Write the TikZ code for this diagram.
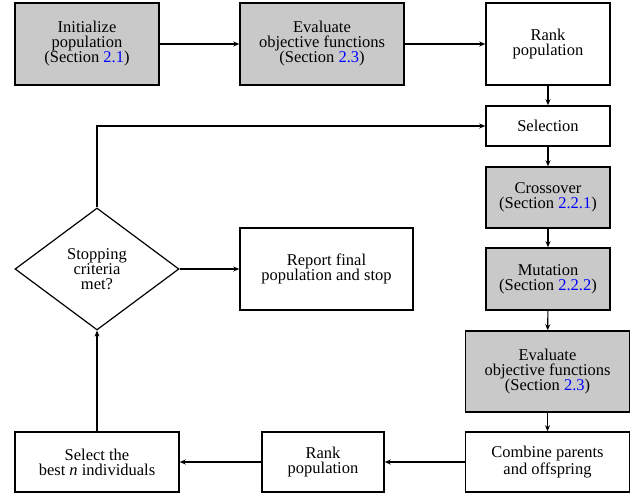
\documentclass[tikz,border=0pt]{standalone}
\usepackage{fontspec}
\setmainfont{Liberation Serif}
\usepackage{xcolor}
\usepackage{tikz}
\usetikzlibrary{shapes.geometric,arrows.meta}

\newcommand{\secnum}[1]{(Section \textcolor{blue}{#1})}

\begin{document}
\begin{tikzpicture}[x=1pt,y=1pt,
        font=\fontsize{16.5}{15}\selectfont,
        box/.style={rectangle, draw, line width=1.5pt, fill=white, align=center, inner sep=2pt},
        shaded/.style={box, fill=black!21},
        decision/.style={diamond, draw, line width=1.2pt, fill=white, align=center, inner sep=1pt,
            minimum width=164, minimum height=122},
        arr/.style={-{Stealth[length=6pt,width=5pt,inset=2pt]}, line width=1.1pt}]
        \useasboundingbox (0,0) rectangle (644,-495);

        \node[shaded, minimum width=144, minimum height=82] (init) at (87,-44) {Initialize\\population\\\secnum{2.1}};
        \node[shaded, minimum width=164, minimum height=82] (evalA) at (322,-44) {Evaluate\\objective functions\\\secnum{2.3}};
        \node[box, minimum width=124, minimum height=82] (rankA) at (548,-44) {Rank\\population};
        \node[box, minimum width=124, minimum height=40] (selection) at (548,-126) {Selection};
        \node[shaded, minimum width=124, minimum height=61] (crossover) at (548,-197.5) {Crossover\\\secnum{2.2.1}};
        \node[shaded, minimum width=124, minimum height=62] (mutation) at (548,-279) {Mutation\\\secnum{2.2.2}};
        \node[shaded, minimum width=164, minimum height=81] (evalB) at (547.5,-371.5) {Evaluate\\objective functions\\\secnum{2.3}};
        \node[box, minimum width=164, minimum height=60] (combine) at (547.5,-462) {Combine parents\\and offspring};
        \node[box, minimum width=122, minimum height=60] (rankB) at (323,-462) {Rank\\population};
        \node[box, minimum width=164, minimum height=60] (best) at (97,-462) {Select the\\best \textit{n} individuals};
        \node[decision] (stop) at (97,-269) {Stopping\\criteria\\met?};
        \node[box, minimum width=173, minimum height=82] (report) at (326.5,-269) {Report final\\population and stop};

        \draw[arr] (init) -- (evalA);
        \draw[arr] (evalA) -- (rankA);
        \draw[arr] (rankA) -- (selection);
        \draw[arr] (selection) -- (crossover);
        \draw[arr] (crossover) -- (mutation);
        \draw[arr] (mutation) -- (evalB);
        \draw[arr] (evalB) -- (combine);
        \draw[arr] (combine) -- (rankB);
        \draw[arr] (rankB) -- (best);
        \draw[arr] (best) -- (stop);
        \draw[arr] (stop) -- (report);
        \draw[arr] (stop.north) |- (selection.west);
    \end{tikzpicture}
\end{document}
